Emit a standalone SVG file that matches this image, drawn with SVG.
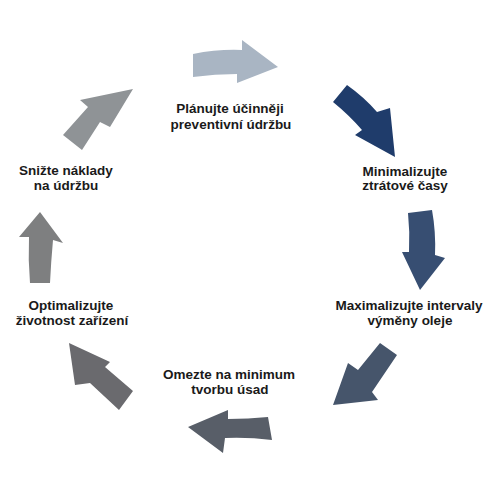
<svg xmlns="http://www.w3.org/2000/svg" width="501" height="500" viewBox="0 0 501 500">
<style>
.lbl{font-family:"Liberation Sans",Arial,sans-serif;font-weight:bold;font-size:13.5px;fill:#1a1a1a;text-anchor:middle}
.arr{stroke:none}
</style>
<rect width="501" height="500" fill="#ffffff"/>
<g id="connectors">
<path class="arr" fill="#a9b5c3" d="M193,54 Q218,49 242,50 L242,40 L278,67 L237,83 L237,74 Q215,74 193,77 Z"/>
<path class="arr" fill="#1f3c6b" d="M347,85 Q364,97 377,112 L390,108 L395,157 L355,135 L362,130 Q349,115 333,102 Z"/>
<path class="arr" fill="#374e72" d="M408,213 L432,210 Q436,232 435,255 L445,258 L420,290 L402,252 L409,252 Q410,232 408,213 Z"/>
<path class="arr" fill="#46556b" d="M380,343 L397,355 L372,392 L378,400 L333,405 L348,363 L358,370 Z"/>
<path class="arr" fill="#585e68" d="M268,417 L272,440 Q248,437 225,438 L223,453 L188,427 L228,410 L228,419 Q248,419 268,417 Z"/>
<path class="arr" fill="#6a6a6e" d="M69,343 L110,362 L105,367 L133,391 L119,410 L90,383 L75,385 Z"/>
<path class="arr" fill="#7e7f80" d="M40,212 L63,243 L53,240 Q51,262 50,283 L30,283 Q28,260 29,237 L19,237 Z"/>
<path class="arr" fill="#8f9396" d="M63,135 L88,107 L80,100 L133,89 L110,127 L100,122 L82,150 Z"/>
</g>
<g id="node-planujte"><text class="lbl" x="230" y="113">Plánujte účinněji</text><text class="lbl" x="231" y="128.5">preventivní údržbu</text></g>
<g id="node-minimalizujte"><text class="lbl" x="405" y="175.5">Minimalizujte</text><text class="lbl" x="405" y="190">ztrátové časy</text></g>
<g id="node-maximalizujte"><text class="lbl" x="409" y="310">Maximalizujte intervaly</text><text class="lbl" x="410" y="324.5">výměny oleje</text></g>
<g id="node-omezte"><text class="lbl" x="229" y="379">Omezte na minimum</text><text class="lbl" x="230" y="394">tvorbu úsad</text></g>
<g id="node-optimalizujte"><text class="lbl" x="71" y="310">Optimalizujte</text><text class="lbl" x="72" y="324.5">životnost zařízení</text></g>
<g id="node-snizte"><text class="lbl" x="66" y="175">Snižte náklady</text><text class="lbl" x="66" y="190">na údržbu</text></g>
</svg>
